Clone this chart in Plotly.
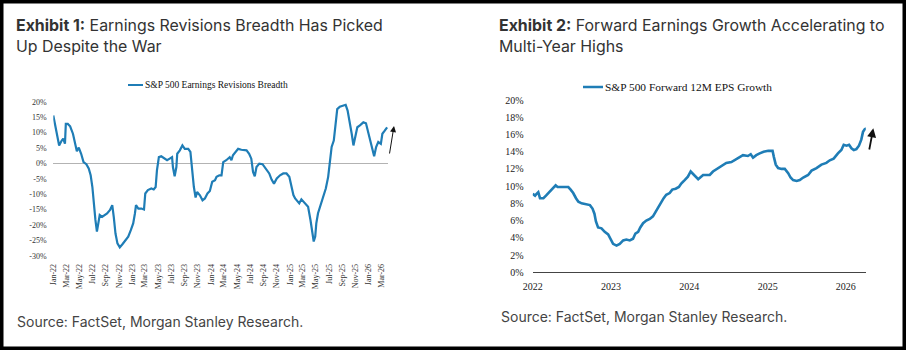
import plotly.graph_objects as go

W, H = 912, 353

# ---------------- data ----------------
left_dates = ["2022-01-01","2022-01-12","2022-01-19","2022-01-28","2022-02-09","2022-02-16","2022-02-24","2022-02-28",
"2022-03-09","2022-03-20","2022-04-02","2022-04-13","2022-04-20","2022-04-29","2022-05-10","2022-05-21","2022-06-03",
"2022-06-14","2022-06-23","2022-07-01","2022-07-07","2022-07-15","2022-07-22","2022-07-30","2022-08-04","2022-08-15",
"2022-08-27","2022-09-07","2022-09-20","2022-10-01","2022-10-08","2022-10-16","2022-10-25","2022-11-05","2022-11-18",
"2022-12-03","2022-12-14","2022-12-26","2023-01-06","2023-01-14","2023-01-19","2023-01-30","2023-02-13","2023-02-25",
"2023-03-03","2023-03-15","2023-03-31","2023-04-11","2023-04-20","2023-04-26","2023-05-05","2023-05-16","2023-06-01",
"2023-06-12","2023-06-24","2023-07-05","2023-07-09","2023-07-17","2023-07-25","2023-07-29","2023-08-10","2023-08-22",
"2023-09-02","2023-09-18","2023-09-28","2023-10-06","2023-10-14","2023-10-22","2023-10-29","2023-11-11","2023-11-23",
"2023-12-04","2023-12-16","2023-12-27","2024-01-07","2024-01-20","2024-01-27","2024-02-09","2024-02-19","2024-02-27",
"2024-03-12","2024-03-28","2024-04-05","2024-04-12","2024-04-25","2024-05-06","2024-05-21","2024-06-14","2024-06-26",
"2024-07-06","2024-07-14","2024-07-22","2024-07-30","2024-08-12","2024-08-27","2024-09-12","2024-09-27","2024-10-08",
"2024-10-19","2024-11-01","2024-11-16","2024-12-01","2024-12-16","2024-12-29","2025-01-09","2025-01-17","2025-01-25",
"2025-02-05","2025-02-13","2025-02-23","2025-03-05","2025-03-15","2025-03-26","2025-04-06","2025-04-15","2025-04-21",
"2025-04-28","2025-05-03","2025-05-11","2025-05-22","2025-06-04","2025-06-16","2025-06-27","2025-07-04","2025-07-13",
"2025-07-23","2025-07-31","2025-08-08","2025-08-20","2025-09-05","2025-09-16","2025-09-25","2025-10-06","2025-10-14",
"2025-10-22","2025-10-31","2025-11-09","2025-11-21","2025-12-07","2025-12-19","2025-12-30","2026-01-10","2026-01-19",
"2026-01-26","2026-02-04","2026-02-14","2026-02-26","2026-03-05","2026-03-16","2026-03-27"]
left_values = [15.5,11.2,8.0,5.8,7.4,8.0,6.4,12.8,12.8,12.0,9.6,6.4,3.9,5.1,3.1,0.4,-0.3,-1.7,-3.9,
-7.7,-13.0,-18.4,-22.2,-19.5,-16.8,-17.4,-16.8,-16.3,-15.2,-13.6,-17.4,-22.8,-26.0,-27.3,-26.2,-24.9,-23.8,-21.7,
-19.5,-16.3,-13.6,-14.7,-14.7,-15.0,-9.8,-8.7,-8.2,-8.5,-7.7,-2.3,2.0,2.3,1.5,1.0,1.5,2.0,-1.2,-4.2,-1.2,3.1,
4.2,5.8,4.7,4.7,3.7,-2.3,-7.7,-11.1,-9.3,-10.4,-12.0,-11.4,-9.8,-9.0,-6.0,-5.5,-4.4,-3.9,-3.9,0.4,1.0,2.0,
1.0,2.6,3.7,4.7,4.4,4.2,3.1,1.5,-2.8,-4.2,-1.2,-0.1,-0.3,-1.7,-3.3,-5.3,-6.6,-4.9,-3.9,-3.3,-3.3,-4.4,
-7.6,-10.3,-11.4,-12.5,-13.0,-11.7,-12.5,-13.5,-14.1,-18.4,-23.8,-25.4,-23.8,-19.5,-16.2,-13.5,-10.9,-8.2,-4.4,
-0.1,5.3,7.4,12.8,17.6,18.4,18.7,19.0,17.1,13.3,9.6,5.8,8.5,11.7,12.3,13.3,13.0,10.1,7.4,4.7,2.3,5.3,6.9,6.3,
9.6,10.6,11.7]

left_tick_dates = ["2022-01-01","2022-03-01","2022-05-01","2022-07-01","2022-09-01","2022-11-01",
"2023-01-01","2023-03-01","2023-05-01","2023-07-01","2023-09-01","2023-11-01",
"2024-01-01","2024-03-01","2024-05-01","2024-07-01","2024-09-01","2024-11-01",
"2025-01-01","2025-03-01","2025-05-01","2025-07-01","2025-09-01","2025-11-01",
"2026-01-01","2026-03-01"]
left_tick_labels = ["Jan-22","Mar-22","May-22","Jul-22","Sep-22","Nov-22",
"Jan-23","Mar-23","May-23","Jul-23","Sep-23","Nov-23",
"Jan-24","Mar-24","May-24","Jul-24","Sep-24","Nov-24",
"Jan-25","Mar-25","May-25","Jul-25","Sep-25","Nov-25",
"Jan-26","Mar-26"]
left_y_ticks = [-30, -25, -20, -15, -10, -5, 0, 5, 10, 15, 20]
left_y_labels = ["-30%","-25%","-20%","-15%","-10%","-5%","0%","5%","10%","15%","20%"]

right_dates = ["2022-01-01","2022-01-12","2022-01-19","2022-01-27","2022-02-04","2022-02-20","2022-03-04","2022-03-15",
"2022-03-30","2022-04-10","2022-04-18","2022-04-27","2022-05-16","2022-06-01","2022-06-16","2022-06-27","2022-07-09",
"2022-07-22","2022-08-02","2022-08-17","2022-09-09","2022-09-25","2022-10-07","2022-10-16","2022-10-23","2022-11-02",
"2022-11-18","2022-12-03","2022-12-19","2022-12-30","2023-01-11","2023-01-27","2023-02-11","2023-02-27","2023-03-14",
"2023-03-30","2023-04-14","2023-04-25","2023-05-08","2023-05-18","2023-05-31","2023-06-15","2023-07-01","2023-07-16",
"2023-08-01","2023-08-13","2023-08-24","2023-09-04","2023-09-16","2023-10-02","2023-10-14","2023-10-30","2023-11-14",
"2023-11-25","2023-12-11","2023-12-26","2024-01-08","2024-02-12","2024-03-06","2024-04-06","2024-04-21","2024-05-14",
"2024-06-07","2024-06-22","2024-07-16","2024-08-08","2024-08-24","2024-09-08","2024-10-01","2024-10-14","2024-10-25",
"2024-11-09","2024-11-25","2024-12-13","2025-01-04","2025-01-24","2025-01-30","2025-02-08","2025-02-19","2025-03-07",
"2025-03-22","2025-04-07","2025-04-18","2025-04-30","2025-05-16","2025-05-31","2025-06-16","2025-07-09","2025-07-25",
"2025-08-17","2025-09-09","2025-10-02","2025-10-18","2025-11-05","2025-11-25","2025-12-11","2025-12-22","2026-01-04",
"2026-01-16","2026-01-27","2026-02-07","2026-02-19","2026-03-03","2026-03-14","2026-03-22","2026-03-30","2026-04-06"]
right_values = [9.1,8.9,9.1,9.3,8.6,8.6,8.9,9.2,9.5,9.9,10.1,9.9,9.9,9.9,9.9,9.6,9.2,8.6,8.2,8.0,7.9,7.8,
7.4,6.8,5.9,5.2,5.1,4.7,4.4,3.9,
3.3,3.1,3.3,3.7,3.8,3.7,3.9,4.5,4.7,5.2,5.7,6.0,6.2,6.5,7.2,7.6,8.1,8.6,9.0,9.2,9.6,9.7,9.9,10.3,10.7,11.1,
11.7,10.8,11.3,11.3,11.7,12.1,12.5,12.7,12.8,13.1,13.4,13.6,13.5,13.7,13.3,13.6,13.8,14.0,
14.1,14.1,13.4,12.5,12.1,12.0,12.0,11.5,11.0,10.7,10.6,10.7,11.0,11.3,11.8,12.1,12.5,12.7,13.0,13.2,13.8,14.2,14.8,
14.7,14.8,14.4,14.2,14.3,14.7,15.4,16.3,16.6,16.7]

right_tick_dates = ["2022-01-01","2023-01-01","2024-01-01","2025-01-01","2026-01-01"]
right_tick_labels = ["2022","2023","2024","2025","2026"]
right_y_ticks = [0, 2, 4, 6, 8, 10, 12, 14, 16, 18, 20]
right_y_labels = ["0%","2%","4%","6%","8%","10%","12%","14%","16%","18%","20%"]

left_legend = "S&P 500 Earnings Revisions Breadth"
right_legend = "S&P 500 Forward 12M EPS Growth"

# ---------------- style ----------------
BLUE = "#1f7db6"
SERIF = "Liberation Serif, Times New Roman, serif"
SANS = "Inter, Noto Sans, sans-serif"
TXT = "#333333"


def px(x):
    return x / W


def py(y):
    return 1 - y / H


fig = go.Figure()
fig.add_trace(go.Scatter(x=left_dates, y=left_values, mode="lines",
                         line=dict(color=BLUE, width=2.2), xaxis="x", yaxis="y",
                         name=left_legend, hoverinfo="skip"))
fig.add_trace(go.Scatter(x=right_dates, y=right_values, mode="lines",
                         line=dict(color=BLUE, width=2.6), xaxis="x2", yaxis="y2",
                         name=right_legend, hoverinfo="skip"))

invisible_ticks = dict(ticks="outside", tickcolor="rgba(0,0,0,0)", automargin=False)

fig.update_layout(
    template="none",
    width=W, height=H, margin=dict(l=0, r=0, t=0, b=0, autoexpand=False),
    paper_bgcolor="white", plot_bgcolor="white", showlegend=False,
    xaxis=dict(domain=[px(53.3), px(388.2)], type="date", range=["2022-01-01", "2026-04-01"],
               tickvals=left_tick_dates, ticktext=left_tick_labels, tickangle=-90,
               tickfont=dict(family=SERIF, size=8, color=TXT), showgrid=False,
               showline=False, zeroline=False, anchor="y", ticklen=4, **invisible_ticks),
    yaxis=dict(domain=[py(255.7), py(101.7)], range=[-30, 20],
               tickvals=left_y_ticks, ticktext=left_y_labels,
               tickfont=dict(family=SERIF, size=8, color=TXT), showgrid=False,
               showline=False, zeroline=True, zerolinecolor="#b3b3b3", zerolinewidth=1,
               anchor="x", ticklen=4, **invisible_ticks),
    xaxis2=dict(domain=[px(532.7), px(865.8)], type="date", range=["2022-01-01", "2026-04-04"],
                tickvals=right_tick_dates, ticktext=right_tick_labels,
                tickfont=dict(family=SERIF, size=10, color="#222"), showgrid=False,
                showline=True, linecolor="#444", linewidth=1, zeroline=False,
                anchor="y2", ticklen=5, **invisible_ticks),
    yaxis2=dict(domain=[py(272.3), py(100)], range=[0, 20],
                tickvals=right_y_ticks, ticktext=right_y_labels,
                tickfont=dict(family=SERIF, size=10, color="#222"), showgrid=False,
                showline=False, zeroline=False, anchor="x2", ticklen=6, **invisible_ticks),
)

annotations = []


def text(x, y, s, size, family=SANS, color=TXT):
    annotations.append(dict(x=px(x), y=py(y), xref="paper", yref="paper", text=s,
                            showarrow=False, xanchor="left", yanchor="middle",
                            font=dict(family=family, size=size, color=color)))


# titles
text(14, 25, "<b>Exhibit 1:</b> Earnings Revisions Breadth Has Picked", 15.9)
text(14, 46.5, "Up Despite the War", 15.9)
text(497, 25, "<b>Exhibit 2:</b> Forward Earnings Growth Accelerating to", 15.9)
text(497, 46.5, "Multi-Year Highs", 15.9)
# sources
text(15, 321, "Source: FactSet, Morgan Stanley Research.", 14, color="#444")
text(499, 316, "Source: FactSet, Morgan Stanley Research.", 14, color="#444")
# legends
text(143, 85, left_legend, 9.5, family=SERIF, color="#111")
text(603, 87, right_legend, 11.4, family=SERIF, color="#111")

# arrows
annotations.append(dict(x=px(394), y=py(126), xref="paper", yref="paper", text="",
                        showarrow=True, ax=-4.7, ay=29, arrowhead=2, arrowsize=1.2,
                        arrowwidth=1, arrowcolor="#111", standoff=0))
annotations.append(dict(x=px(873.3), y=py(128.3), xref="paper", yref="paper", text="",
                        showarrow=True, ax=-4.3, ay=22.7, arrowhead=2, arrowsize=1,
                        arrowwidth=1.8, arrowcolor="#111", standoff=0))

fig.update_layout(annotations=annotations)

shapes = [
    # frame
    dict(type="rect", xref="paper", yref="paper", x0=px(1.75), x1=px(904.25),
         y0=py(348.25), y1=py(1.75), line=dict(color="black", width=3.5)),
    # legend samples
    dict(type="line", xref="paper", yref="paper", x0=px(128), x1=px(143), y0=py(85), y1=py(85),
         line=dict(color=BLUE, width=2)),
    dict(type="line", xref="paper", yref="paper", x0=px(583), x1=px(603), y0=py(87), y1=py(87),
         line=dict(color=BLUE, width=2.5)),
]
fig.update_layout(shapes=shapes)

fig.write_html("out.html")
